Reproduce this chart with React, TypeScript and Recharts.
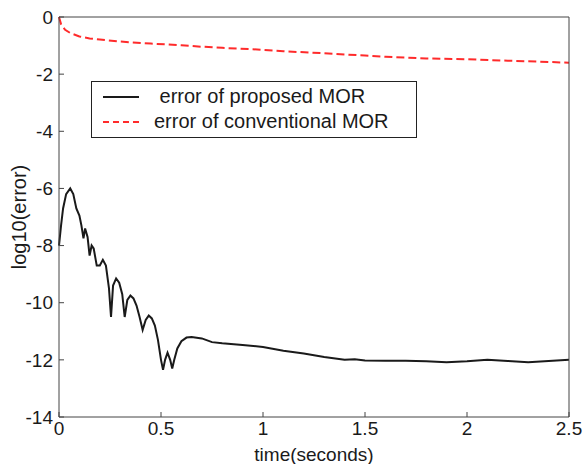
import { LineChart, Line, XAxis, YAxis, Legend } from 'recharts';

// log10 of error for the proposed model order reduction
const proposedTime = [
  0, 0.01, 0.02, 0.035, 0.055, 0.07, 0.085, 0.1, 0.11, 0.12, 0.128, 0.14, 0.15, 0.16, 0.17,
  0.185, 0.2, 0.215, 0.23, 0.245, 0.255, 0.265, 0.28, 0.295, 0.31, 0.322, 0.335, 0.35, 0.365,
  0.38, 0.395, 0.41, 0.425, 0.44, 0.455, 0.47, 0.485, 0.5, 0.51, 0.52, 0.532, 0.545, 0.555,
  0.565, 0.58, 0.6, 0.625, 0.65, 0.7, 0.75, 0.8, 0.9, 1.0, 1.1, 1.2, 1.3, 1.4, 1.45, 1.5, 1.6,
  1.7, 1.8, 1.9, 2.0, 2.1, 2.2, 2.3, 2.4, 2.5,
];
const proposedError = [
  -8.0, -7.3, -6.7, -6.2, -6.0, -6.2, -6.7, -6.95, -7.3, -7.75, -7.4, -7.7, -8.35, -8.0, -8.1,
  -8.7, -8.7, -8.5, -8.7, -9.5, -10.5, -9.4, -9.15, -9.3, -9.7, -10.5, -9.9, -9.75, -9.85,
  -10.1, -10.5, -10.95, -10.6, -10.45, -10.55, -10.8, -11.3, -12.0, -12.35, -12.0, -11.75,
  -12.0, -12.3, -12.0, -11.6, -11.35, -11.22, -11.2, -11.25, -11.38, -11.42, -11.48, -11.55,
  -11.68, -11.78, -11.9, -12.0, -11.98, -12.02, -12.03, -12.03, -12.05, -12.08, -12.05, -12.0,
  -12.04, -12.08, -12.04, -12.0,
];

// log10 of error for the conventional model order reduction
const conventionalTime = [
  0, 0.01, 0.03, 0.055, 0.1, 0.15, 0.2, 0.3, 0.45, 0.6, 0.7, 0.8, 0.95, 1.1, 1.3, 1.5, 1.6,
  1.8, 2.0, 2.2, 2.35, 2.5,
];
const conventionalError = [
  0, -0.25, -0.45, -0.56, -0.68, -0.75, -0.79, -0.86, -0.93, -0.99, -1.04, -1.08, -1.13, -1.2,
  -1.27, -1.35, -1.39, -1.45, -1.48, -1.53, -1.56, -1.6,
];

const xTicks = [0, 0.5, 1, 1.5, 2, 2.5];
const yTicks = [-14, -12, -10, -8, -6, -4, -2, 0];

const proposedLabel = ' error of proposed MOR';
const conventionalLabel = 'error of conventional MOR';

const FONT = '"Liberation Sans", Arial, Helvetica, sans-serif';
const RED = '#ff2b2b';
const INK = '#1a1a1a';
const AXIS = '#444';

const proposed = proposedTime.map((t, i) => ({ t, v: proposedError[i] }));
const conventional = conventionalTime.map((t, i) => ({ t, v: conventionalError[i] }));

function LegendBox() {
  const row = (dashed: boolean, color: string, text: string, textLeft: number) => (
    <div style={{ display: 'flex', alignItems: 'center', height: 25 }}>
      <svg width={36} height={4} style={{ marginLeft: 11 }}>
        <line
          x1={0}
          y1={2}
          x2={36}
          y2={2}
          stroke={color}
          strokeWidth={2}
          strokeDasharray={dashed ? '6 4' : undefined}
        />
      </svg>
      <span style={{ marginLeft: textLeft, whiteSpace: 'pre' }}>{text}</span>
    </div>
  );
  return (
    <div
      style={{
        width: 324,
        height: 53,
        border: '1px solid #222',
        background: '#fff',
        fontFamily: FONT,
        fontSize: 20,
        color: INK,
        boxSizing: 'content-box',
        paddingTop: 2,
        lineHeight: '25px',
      }}
    >
      {row(false, INK, proposedLabel, 15)}
      {row(true, RED, conventionalLabel, 15)}
    </div>
  );
}

export default function App() {
  const tickStyle = { fontSize: 19, fill: INK, fontFamily: FONT };
  return (
    <div style={{ position: 'absolute', left: 0, top: 0, background: '#fff' }}>
      <LineChart width={583} height={464} margin={{ top: 16, right: 13, bottom: 0, left: 9 }}>
        <XAxis
          xAxisId="bottom"
          dataKey="t"
          type="number"
          domain={[0, 2.5]}
          ticks={xTicks}
          height={47}
          stroke={AXIS}
          tick={tickStyle}
          tickSize={-5}
          tickMargin={10}
          allowDuplicatedCategory={false}
          label={{
            value: 'time(seconds)',
            position: 'insideBottom',
            offset: 3,
            style: { fontSize: 19, fill: INK, fontFamily: FONT },
          }}
        />
        <XAxis
          xAxisId="top"
          dataKey="t"
          orientation="top"
          type="number"
          domain={[0, 2.5]}
          ticks={xTicks}
          height={1}
          stroke={AXIS}
          tickSize={-5}
          tickFormatter={() => ''}
          allowDuplicatedCategory={false}
        />
        <YAxis
          yAxisId="left"
          type="number"
          domain={[-14, 0]}
          ticks={yTicks}
          width={50}
          stroke={AXIS}
          tick={tickStyle}
          tickSize={-5}
          tickMargin={11}
          label={{
            value: 'log10(error)',
            angle: -90,
            position: 'insideLeft',
            offset: 10,
            style: { fontSize: 20, fill: INK, fontFamily: FONT, textAnchor: 'middle' },
          }}
        />
        <YAxis
          yAxisId="right"
          orientation="right"
          type="number"
          domain={[-14, 0]}
          ticks={yTicks}
          width={1}
          stroke={AXIS}
          tickSize={-5}
          tickFormatter={() => ''}
        />
        <Legend
          layout="horizontal"
          verticalAlign="middle"
          align="center"
          content={() => <LegendBox />}
          wrapperStyle={{ position: 'absolute', left: 91, top: 81, width: 'auto' }}
        />
        <Line
          data={conventional}
          xAxisId="bottom"
          yAxisId="left"
          dataKey="v"
          name={conventionalLabel}
          type="linear"
          stroke={RED}
          strokeWidth={2}
          strokeDasharray="8 4"
          dot={false}
          activeDot={false}
          isAnimationActive={false}
        />
        <Line
          data={proposed}
          xAxisId="bottom"
          yAxisId="left"
          dataKey="v"
          name={proposedLabel}
          type="linear"
          stroke={INK}
          strokeWidth={2}
          dot={false}
          activeDot={false}
          isAnimationActive={false}
        />
      </LineChart>
    </div>
  );
}
